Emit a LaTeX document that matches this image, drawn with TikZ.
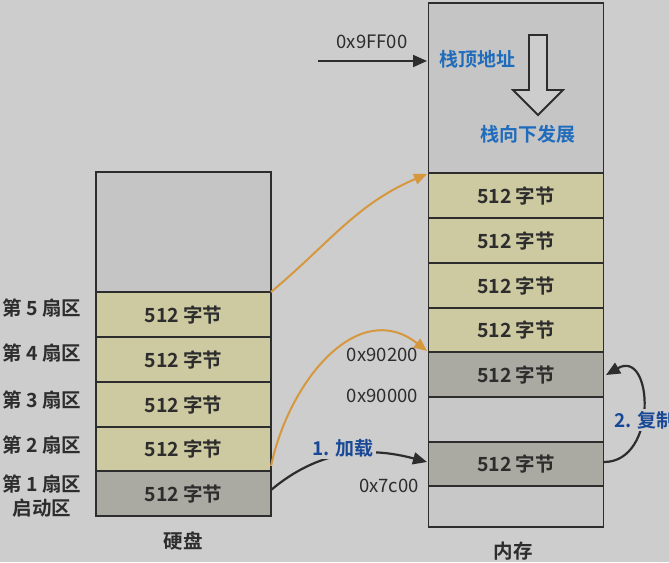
\documentclass[tikz,border=0pt]{standalone}
\usepackage{fontspec}
\setmainfont{Noto Sans CJK SC}
\newfontfamily\cjkb{Noto Sans CJK SC Bold}
\usetikzlibrary{arrows.meta}
\definecolor{bgc}{RGB}{205,205,205}
\definecolor{stackc}{RGB}{197,197,197}
\definecolor{yelc}{RGB}{205,201,161}
\definecolor{dgc}{RGB}{170,170,162}
\definecolor{lgc}{RGB}{200,200,200}
\definecolor{orc}{RGB}{214,152,62}
\definecolor{bluec}{RGB}{32,108,188}
\definecolor{dbluec}{RGB}{24,72,150}
\definecolor{linec}{RGB}{45,45,45}
\tikzset{
  cell/.style={draw=linec,line width=1.1pt,minimum width=175pt,inner sep=0pt,font=\cjkb\fontsize{19.5}{19.5}\selectfont,text=linec},
  lbl/.style={font=\cjkb\fontsize{19.5}{19.5}\selectfont,text=linec,inner sep=0pt},
  addr/.style={font=\fontsize{18.5}{18.5}\selectfont,text=linec,inner sep=0pt},
  blbl/.style={font=\cjkb\fontsize{19}{19}\selectfont,text=bluec,inner sep=0pt},
  oarr/.style={draw=orc,line width=2pt,-{Triangle[length=13pt,width=11pt]}},
  karr/.style={draw=linec,line width=2.2pt,-{Triangle[length=14pt,width=12pt]}},
}
\begin{document}
\begin{tikzpicture}[x=1pt,y=-1pt]
\clip (0,0) rectangle (669,562);
\fill[bgc] (0,0) rectangle (669,562);
% disk
\node[cell,fill=stackc,minimum height=120pt] (dtop) at (183.5,232) {};
\node[cell,fill=yelc,minimum height=45pt] (d5) at (183.5,314.5) {512 字节};
\node[cell,fill=yelc,minimum height=45pt] (d4) at (183.5,359.5) {512 字节};
\node[cell,fill=yelc,minimum height=45pt] (d3) at (183.5,404.5) {512 字节};
\node[cell,fill=yelc,minimum height=44pt] (d2) at (183.5,449) {512 字节};
\node[cell,fill=dgc,minimum height=45pt] (d1) at (183.5,493.5) {512 字节};
\node[lbl] (l5) at (42,308) {第 5 扇区};
\node[lbl] (l4) at (42,353) {第 4 扇区};
\node[lbl] (l3) at (42,400) {第 3 扇区};
\node[lbl] (l2) at (42,445) {第 2 扇区};
\node[lbl] (l1) at (42,484) {第 1 扇区};
\node[lbl] (lb) at (42,508) {启动区};
\node[lbl] (disk) at (183,541) {硬盘};
% memory
\node[cell,fill=stackc,minimum height=170pt] (stack) at (516,88) {};
\node[cell,fill=yelc,minimum height=45pt] (m4) at (516,195.5) {512 字节};
\node[cell,fill=yelc,minimum height=45pt] (m3) at (516,240.5) {512 字节};
\node[cell,fill=yelc,minimum height=45pt] (m2) at (516,285.5) {512 字节};
\node[cell,fill=yelc,minimum height=44pt] (m1) at (516,330) {512 字节};
\node[cell,fill=dgc,minimum height=45pt] (mb) at (516,374.5) {512 字节};
\node[cell,fill=lgc,minimum height=45pt] (me1) at (516,419.5) {};
\node[cell,fill=dgc,minimum height=44pt] (m7) at (516,464) {512 字节};
\node[cell,fill=lgc,minimum height=41pt] (me2) at (516,506.5) {};
\node[lbl] (mem) at (513,551) {内存};
% addresses
\node[addr] (a9) at (372,42) {0x9FF00};
\coordinate (a9s) at (318,61);
\coordinate (a9e) at (427,61);
\draw[karr,line width=2pt] (a9s) -- (a9e);
\node[addr,anchor=east] (a92) at (418,355) {0x90200};
\node[addr,anchor=east] (a90) at (418,396) {0x90000};
\node[addr,anchor=east] (a7c) at (419,486) {0x7c00};
% stack texts
\node[blbl] (top) at (477,59) {栈顶地址};
\node[blbl] (grow) at (528,134) {栈向下发展};
\draw[linec,line width=1.8pt,fill=bgc,line join=miter]
  (529,35) -- (547,35) -- (547,90) -- (563,90) -- (538,115) -- (513,90) -- (529,90) -- cycle;
% arrows
\coordinate (o1s) at (271,292);
\coordinate (o1e) at (427,174);
\draw[oarr] (o1s) to[out=40,in=203] (o1e);
\coordinate (o2s) at (271,466);
\coordinate (o2e) at (427,351);
\draw[oarr] (o2s) to[out=78,in=142,looseness=1.15] (o2e);
\coordinate (k1s) at (271,490);
\coordinate (k1e) at (427,462);
\coordinate (k1m) at (343,448);
\draw[karr] (k1s) to[out=40,in=165] (k1e);
\node[blbl,text=dbluec,fill=bgc,inner sep=2pt] (load) at (k1m) {1. 加载};
\coordinate (k2s) at (604,462);
\coordinate (k2e) at (606,375);
\draw[karr] (k2s) to[out=0,in=30,looseness=1.6] (k2e);
\node[blbl,text=dbluec,fill=bgc,inner sep=2pt,anchor=west] (copy) at (612,420) {2. 复制};
\end{tikzpicture}
\end{document}
